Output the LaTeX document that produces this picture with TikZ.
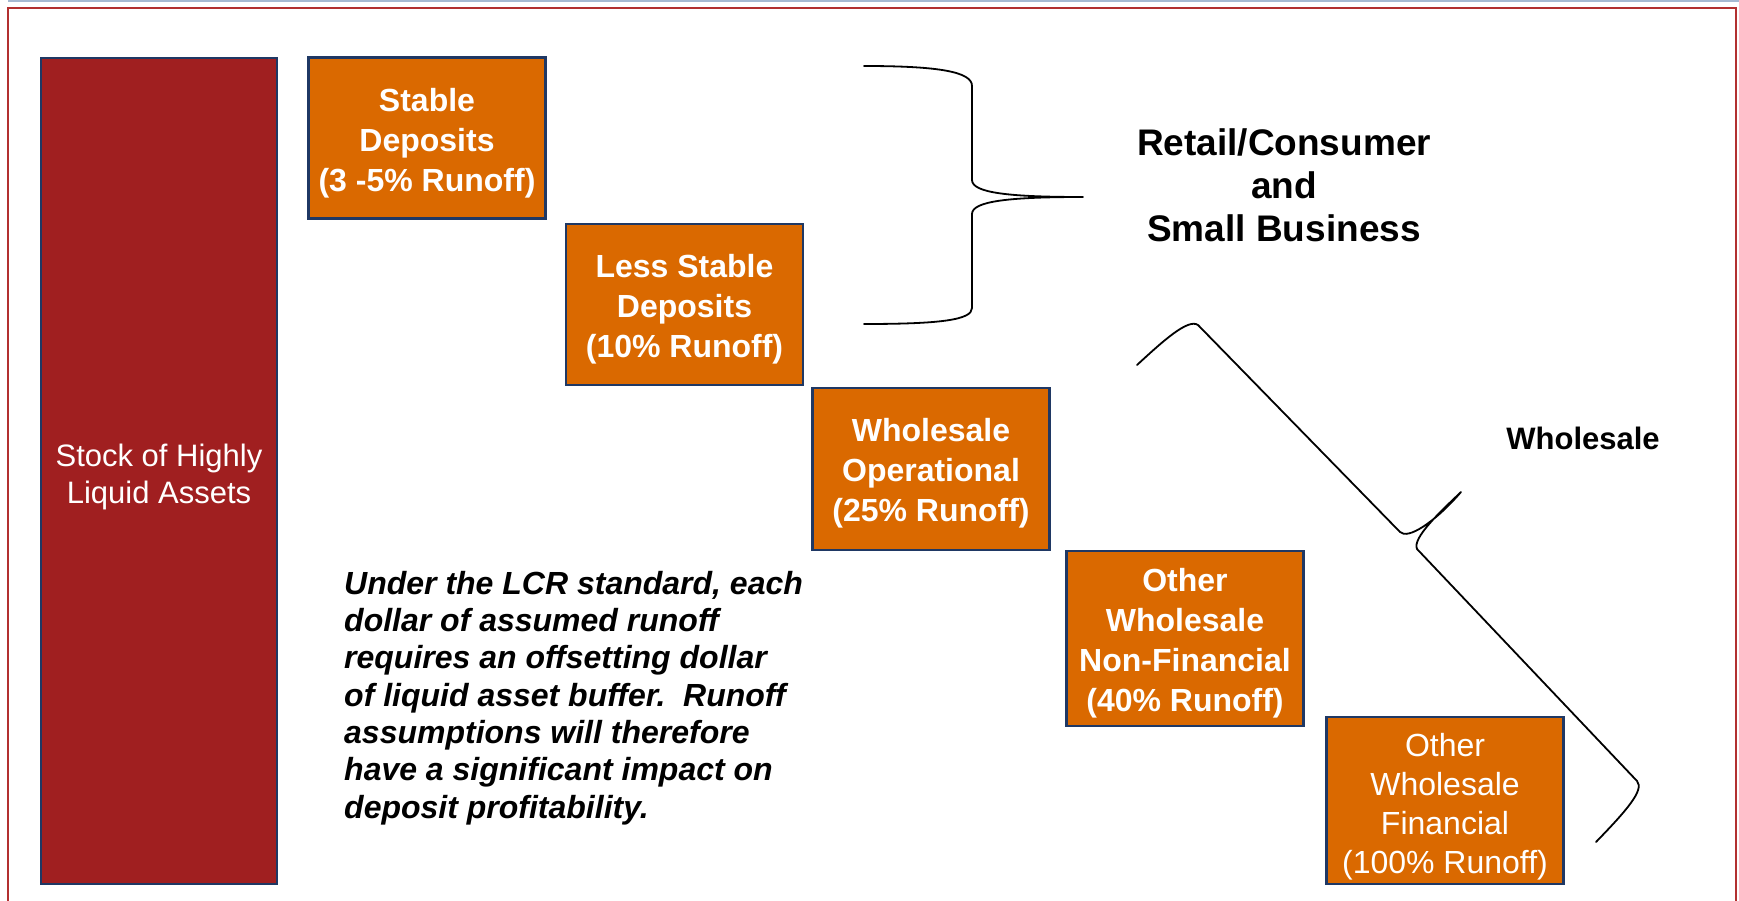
\documentclass[tikz,border=0pt]{standalone}
\usepackage{fontspec}
\setmainfont{Liberation Sans}
\definecolor{hlared}{RGB}{160,31,32}
\definecolor{boxorange}{RGB}{218,105,0}
\definecolor{boxedge}{RGB}{31,56,100}
\definecolor{framered}{RGB}{178,48,48}
\definecolor{topblue}{RGB}{165,185,210}
\begin{document}
\begin{tikzpicture}[x=1pt,y=-1pt,
  runbox/.style={draw=boxedge, line width=2.2pt, fill=boxorange,
    inner sep=0pt, minimum width=237pt},
  boxtext/.style={text=white, align=center, inner sep=0pt,
    font=\fontsize{32}{40}\selectfont\bfseries},
  boxtextlight/.style={boxtext, font=\fontsize{32}{39}\selectfont},
  assetbox/.style={draw=boxedge, line width=2.2pt, fill=hlared,
    inner sep=0pt, minimum width=236pt, minimum height=826pt},
  assettext/.style={text=white, align=center, inner sep=0pt,
    font=\fontsize{31}{37}\selectfont},
  grouplabel/.style={align=center, inner sep=0pt, text=black},
  bracepath/.style={draw=black, line width=1.8pt, line join=round, line cap=round},
  noteText/.style={align=left, inner sep=0pt, text=black,
    font=\fontsize{32}{37.3}\selectfont\bfseries\itshape}
]
\useasboundingbox (0,0) rectangle (1739,901);
\fill[white] (0,0) rectangle (1739,901);
% frame lines
\draw[topblue, line width=2pt] (8,1) -- (1739,1);
\draw[framered, line width=2pt] (8,901) -- (8,8) -- (1736,8) -- (1736,901);

% boxes
\node[assetbox] (hla) at (159,471) {};
\node[assettext] (hlatext) at ([yshift=-5.5pt]hla.center) {Stock of Highly\\Liquid Assets};

\node[runbox, minimum height=161pt] (stable) at (427,138) {};
\node[boxtext] (stabletext) at ([yshift=-5pt]stable.center) {Stable\\Deposits\\(3 -5\% Runoff)};

\node[runbox, minimum height=161pt] (lessstable) at (684.5,304.5) {};
\node[boxtext] (lessstabletext) at ([yshift=-5pt]lessstable.center) {Less Stable\\Deposits\\(10\% Runoff)};

\node[runbox, minimum height=162pt] (operational) at (931,469) {};
\node[boxtext] (operationaltext) at ([yshift=-4.5pt]operational.center) {Wholesale\\Operational\\(25\% Runoff)};

\node[runbox, minimum height=175pt] (nonfin) at (1185,638.5) {};
\node[boxtext] (nonfintext) at ([yshift=-4.5pt]nonfin.center) {Other\\Wholesale\\Non-Financial\\(40\% Runoff)};

\node[runbox, minimum height=167pt] (fin) at (1445,800.5) {};
\node[boxtextlight] (fintext) at ([yshift=-6pt]fin.center) {Other\\Wholesale\\Financial\\(100\% Runoff)};

% note
\node[noteText, anchor=north west] (note) at (344,571) {Under the LCR standard, each\\dollar of assumed runoff\\requires an offsetting dollar\\of liquid asset buffer.~~Runoff\\assumptions will therefore\\have a significant impact on\\deposit profitability.};

% group labels
\node[grouplabel, font=\fontsize{37}{43}\selectfont\bfseries] (retail) at (1284,185) {Retail/Consumer\\and\\Small Business};
\node[grouplabel, font=\fontsize{31}{37}\selectfont\bfseries] (wholesale) at (1583,438) {Wholesale};

% brace 1 (retail)
\draw[bracepath] (864,66) .. controls (940,66) and (972,72) .. (972,86)
  -- (972,180) .. controls (972,193) and (1010,197) .. (1083,197)
  .. controls (1010,197) and (972,201) .. (972,214)
  -- (972,308) .. controls (972,320) and (940,324) .. (864,324);

% brace 2 (wholesale)
\draw[bracepath] (1137,365) .. controls (1162,342) and (1188,318) .. (1198,325)
  -- (1400,532) .. controls (1408,540) and (1435,522) .. (1461,492)
  .. controls (1440,512) and (1412,538) .. (1417,549)
  -- (1637,781) .. controls (1645,790) and (1625,812) .. (1596,842);
\end{tikzpicture}
\end{document}
